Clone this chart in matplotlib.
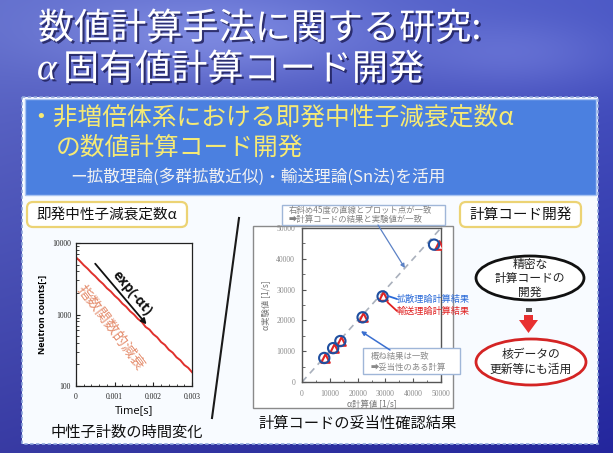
import numpy as np
import matplotlib
matplotlib.use('Agg')
import matplotlib.pyplot as plt
from matplotlib.patches import FancyBboxPatch, Rectangle, Ellipse, Polygon
from matplotlib.ticker import FixedLocator, FixedFormatter, MultipleLocator, NullFormatter, LogLocator
import matplotlib.patheffects as pe

plt.rcParams['font.family'] = ['Noto Sans CJK JP', 'DejaVu Sans']

# ---------------- data ----------------
decay_time = [0.0000, 0.0001, 0.0002, 0.0003, 0.0004, 0.0005, 0.0006, 0.0007, 0.0008, 0.0009,
              0.0010, 0.0011, 0.0012, 0.0013, 0.0014, 0.0015, 0.0016, 0.0017, 0.0018, 0.0019,
              0.0020, 0.0021, 0.0022, 0.0023, 0.0024, 0.0025, 0.0026, 0.0027, 0.0028, 0.0029,
              0.0030]
decay_counts = [6300, 5600, 4900, 4380, 3830, 3420, 2990, 2680, 2330, 2100,
                1830, 1640, 1420, 1280, 1110, 1000, 870, 790, 670, 615,
                530, 480, 412, 375, 322, 293, 252, 229, 197, 180,
                156]
decay_xticks = [0, 0.001, 0.002, 0.003]
decay_xticklabels = ['0', '0.001', '0.002', '0.003']
decay_yticks = [100, 1000, 10000]
decay_yticklabels = ['100', '1000', '10000']

alpha_exp = [7800, 11000, 13300, 21000, 27800, 44600]        # measured alpha [1/s]
alpha_diffusion = [8000, 11200, 13800, 21800, 29000, 47500]  # diffusion theory result
alpha_transport = [8200, 11400, 14000, 22000, 29300, 49200]  # transport theory result
alpha_ticks = [0, 10000, 20000, 30000, 40000, 50000]
alpha_ticklabels = ['0', '10000', '20000', '30000', '40000', '50000']

# ---------------- figure ----------------
W, H = 613, 453
fig = plt.figure(figsize=(W / 100, H / 100), dpi=100)

bg = fig.add_axes([0, 0, 1, 1], zorder=0)
bg.set_xlim(0, W)
bg.set_ylim(H, 0)
bg.axis('off')

# sky-like blue background
yy = np.linspace(0, 1, 240)[:, None]
xx = np.linspace(0, 1, 320)[None, :]
top = np.array([0.38, 0.43, 0.80])
bot = np.array([0.22, 0.23, 0.64])
img = top[None, None, :] * (1 - yy[..., None]) + bot[None, None, :] * yy[..., None]
img = img + 0 * xx[..., None]
cloud = 0.16 * np.exp(-((xx - 0.35) ** 2 / 0.08 + (yy - 0.08) ** 2 / 0.01))
cloud2 = 0.10 * np.exp(-((xx - 0.85) ** 2 / 0.03 + (yy - 0.12) ** 2 / 0.006))
img = img + (cloud + cloud2)[..., None] * np.array([0.9, 0.9, 0.6])
img = img - 0.08 * xx[..., None] * np.array([1.0, 1.0, 0.3])
img = np.clip(img, 0, 1)
bg.imshow(img, extent=[0, W, H, 0], aspect='auto', zorder=0, interpolation='bilinear')

shadow = [pe.SimplePatchShadow(offset=(1.5, -1.5), shadow_rgbFace='#1c1c55', alpha=0.8), pe.Normal()]
bg.text(38, 29, '数値計算手法に関する研究:', fontsize=26, color='white', va='center', ha='left',
        path_effects=shadow, zorder=3)
bg.text(37, 70, 'α', fontsize=27, color='white', va='center', ha='left', style='italic',
        family=['Liberation Serif', 'DejaVu Serif'], path_effects=shadow, zorder=3)
bg.text(63, 70, '固有値計算コード開発', fontsize=26, color='white', va='center', ha='left',
        path_effects=shadow, zorder=3)

# white content panel
bg.add_patch(Rectangle((22, 97), 576, 347, fc='#f8fbff', ec='#8fa6dc', lw=1.2, ls=(0, (2, 1.5)), zorder=1))
bg.add_patch(Rectangle((25, 99), 571, 96, fc='#4b80e0', ec='#a9c4f2', lw=1, zorder=2))
bg.text(28, 118, '・非増倍体系における即発中性子減衰定数α', fontsize=17.8, color='#f6ea74',
        va='center', ha='left', zorder=3)
bg.text(56, 148, 'の数値計算コード開発', fontsize=17.8, color='#f6ea74', va='center', ha='left', zorder=3)
bg.text(70, 177, 'ー拡散理論(多群拡散近似)・輸送理論(Sn法)を活用', fontsize=12, color='#f2f2f2',
        va='center', ha='left', zorder=3)

# left label box
bg.add_patch(FancyBboxPatch((27, 202), 160, 25, boxstyle='round,pad=0,rounding_size=6',
                            fc='white', ec='#ecd374', lw=1.6, zorder=2))
bg.text(107, 214.5, '即発中性子減衰定数α', fontsize=10.5, color='#111', va='center', ha='center', zorder=3)
bg.text(127, 432, '中性子計数の時間変化', fontsize=11, color='#111', va='center', ha='center', zorder=3)

# separator line
bg.plot([239, 212], [218, 418], color='#1a1a1a', lw=1.5, zorder=3)

# scatter frame
bg.add_patch(Rectangle((253, 226), 200, 182, fc='white', ec='#8a8a8a', lw=1.0, zorder=2))
bg.text(358, 423, '計算コードの妥当性確認結果', fontsize=11, color='#111', va='center', ha='center', zorder=3)

# right label box + flow
bg.add_patch(FancyBboxPatch((460, 202), 121, 25, boxstyle='round,pad=0,rounding_size=6',
                            fc='white', ec='#ecd374', lw=1.6, zorder=2))
bg.text(520.5, 214.5, '計算コード開発', fontsize=10.5, color='#111', va='center', ha='center', zorder=3)
bg.add_patch(Ellipse((530, 278), 108, 44, fc='white', ec='#111', lw=2, zorder=2))
bg.text(530, 278, '精密な\n計算コードの\n開発', fontsize=8.5, color='#222', va='center', ha='center',
        linespacing=1.1, zorder=3)
bg.add_patch(Rectangle((525.5, 308), 6, 4, fc='#555', ec='none', zorder=3))
bg.add_patch(Polygon([(524, 315), (533, 315), (533, 320), (538, 320), (528.5, 333), (519, 320), (524, 320)],
                     closed=True, fc='#e83030', ec='none', zorder=3))
bg.add_patch(Ellipse((531, 362), 110, 46, fc='white', ec='#d42424', lw=2, zorder=2))
bg.text(531, 362, '核データの\n更新等にも活用', fontsize=8.5, color='#222', va='center', ha='center',
        linespacing=1.15, zorder=3)

# ---------------- left chart: neutron counts ----------------
ax1 = fig.add_axes([76 / W, 1 - 386 / H, 116 / W, 143 / H], zorder=2)
ax1.set_facecolor('white')
ax1.semilogy(decay_time, decay_counts, color='#e0302c', lw=1.4)
ax1.set_xlim(0, 0.003)
ax1.set_ylim(100, 10000)
ax1.xaxis.set_major_locator(FixedLocator(decay_xticks))
ax1.xaxis.set_major_formatter(FixedFormatter(decay_xticklabels))
ax1.xaxis.set_minor_locator(MultipleLocator(0.0002))
ax1.yaxis.set_major_locator(FixedLocator(decay_yticks))
ax1.yaxis.set_major_formatter(FixedFormatter(decay_yticklabels))
ax1.yaxis.set_minor_locator(LogLocator(base=10, subs=np.arange(2, 10)))
ax1.yaxis.set_minor_formatter(NullFormatter())
ax1.tick_params(which='both', direction='in', labelsize=5.5, colors='#222')
ax1.tick_params(which='major', length=3)
ax1.tick_params(which='minor', length=1.8)
ax1.tick_params(axis='x', pad=5)
for lab in ax1.get_xticklabels() + ax1.get_yticklabels():
    lab.set_family(['Liberation Serif', 'DejaVu Serif'])
for sp in ax1.spines.values():
    sp.set_color('#222')
    sp.set_linewidth(0.9)
ax1.set_ylabel('Neutron counts[-]', fontsize=6.5, fontweight='bold', family=['Open Sans', 'DejaVu Sans'],
               labelpad=4)
ax1.set_xlabel('Time[s]', fontsize=8, family=['Open Sans', 'DejaVu Sans'], labelpad=3)
ax1.annotate('', xy=(0.00187, 680), xytext=(0.00045, 5500),
             arrowprops=dict(arrowstyle='-|>', color='#111', lw=1.3, mutation_scale=8))
ax1.text(0.00146, 2000, 'exp(-αt)', fontsize=10, fontweight='bold', rotation=-50, color='#111',
         ha='center', va='center', family=['Open Sans', 'DejaVu Sans'], rotation_mode='anchor')
ax1.text(0.00090, 650, '指数関数的減衰', fontsize=10.5, rotation=-53, color='#e07a55', alpha=0.85,
         ha='center', va='center', rotation_mode='anchor')

# ---------------- middle chart: validation ----------------
ax2 = fig.add_axes([302 / W, 1 - 382 / H, 139 / W, 154 / H], zorder=2)
ax2.set_facecolor('white')
ax2.plot([0, 50000], [0, 50000], ls=(0, (4, 3)), color='#a9b0bc', lw=1.2, zorder=1)
ax2.scatter(alpha_transport, alpha_exp, marker='^', s=38, facecolors='white', edgecolors='#e02424',
            linewidths=1.5, zorder=3)
ax2.scatter(alpha_diffusion, alpha_exp, marker='o', s=55, facecolors='none', edgecolors='#1f4fa0',
            linewidths=1.5, zorder=4)
ax2.set_xlim(0, 50000)
ax2.set_ylim(0, 50000)
ax2.xaxis.set_major_locator(FixedLocator(alpha_ticks))
ax2.xaxis.set_major_formatter(FixedFormatter(alpha_ticklabels))
ax2.yaxis.set_major_locator(FixedLocator(alpha_ticks))
ax2.yaxis.set_major_formatter(FixedFormatter(alpha_ticklabels))
ax2.xaxis.set_minor_locator(MultipleLocator(5000))
ax2.yaxis.set_minor_locator(MultipleLocator(5000))
ax2.tick_params(which='both', direction='in', labelsize=5.5, colors='#555', labelcolor='#8a8a8a')
ax2.tick_params(which='major', length=3)
ax2.tick_params(which='minor', length=1.8)
ax2.tick_params(axis='x', pad=6)
ax2.tick_params(axis='y', pad=5)
for lab in ax2.get_xticklabels() + ax2.get_yticklabels():
    lab.set_family(['Liberation Serif', 'DejaVu Serif'])
for sp in ax2.spines.values():
    sp.set_color('#555')
    sp.set_linewidth(1.0)
ax2.set_ylabel('α実験値 [1/s]', fontsize=6, color='#777', labelpad=4)
ax2.set_xlabel('α計算値 [1/s]', fontsize=6, color='#777', labelpad=1)

# ---------------- overlay: annotations ----------------
ov = fig.add_axes([0, 0, 1, 1], zorder=5)
ov.set_xlim(0, W)
ov.set_ylim(H, 0)
ov.axis('off')
ov.patch.set_alpha(0)

ov.add_patch(Rectangle((282, 205), 163, 20, fc='white', ec='#9fb6d8', lw=1.0))
ov.text(289, 210.5, '右斜め45度の直線とプロット点が一致', fontsize=6, color='#808080', va='center', ha='left')
ov.text(289, 219.5, '➡計算コードの結果と実験値が一致', fontsize=6, color='#808080', va='center', ha='left')
ov.annotate('', xy=(37000, 37000), xycoords=ax2.transData, xytext=(378, 225), textcoords='data',
            arrowprops=dict(arrowstyle='-|>', color='#5c82c6', lw=0.9, mutation_scale=6, shrinkA=0, shrinkB=0))

ov.add_patch(Rectangle((363, 348), 97, 26, fc='white', ec='#9fb6d8', lw=1.0))
ov.text(371, 356, '概ね結果は一致', fontsize=6, color='#8a8a8a', va='center', ha='left')
ov.text(371, 367, '➡妥当性のある計算', fontsize=6, color='#8a8a8a', va='center', ha='left')
ov.annotate('', xy=(21200, 16500), xycoords=ax2.transData, xytext=(390, 350), textcoords='data',
            arrowprops=dict(arrowstyle='-|>', color='#3a6fd0', lw=1.1, mutation_scale=6, shrinkA=0, shrinkB=0))

ov.annotate('', xy=(397, 299), xycoords='data', xytext=(alpha_diffusion[4], alpha_exp[4] + 700),
            textcoords=ax2.transData,
            arrowprops=dict(arrowstyle='-', color='#2a6ad8', lw=1.3, shrinkA=4, shrinkB=0))
ov.annotate('', xy=(397, 311), xycoords='data', xytext=(alpha_transport[4], alpha_exp[4] - 700),
            textcoords=ax2.transData,
            arrowprops=dict(arrowstyle='-', color='#e02020', lw=1.3, shrinkA=4, shrinkB=0))
ov.text(397, 299, '拡散理論計算結果', fontsize=6.6, color='#2a6ad8', va='center', ha='left')
ov.text(397, 311, '輸送理論計算結果', fontsize=6.6, color='#e02020', va='center', ha='left')

fig.savefig('out.png', dpi=100)
